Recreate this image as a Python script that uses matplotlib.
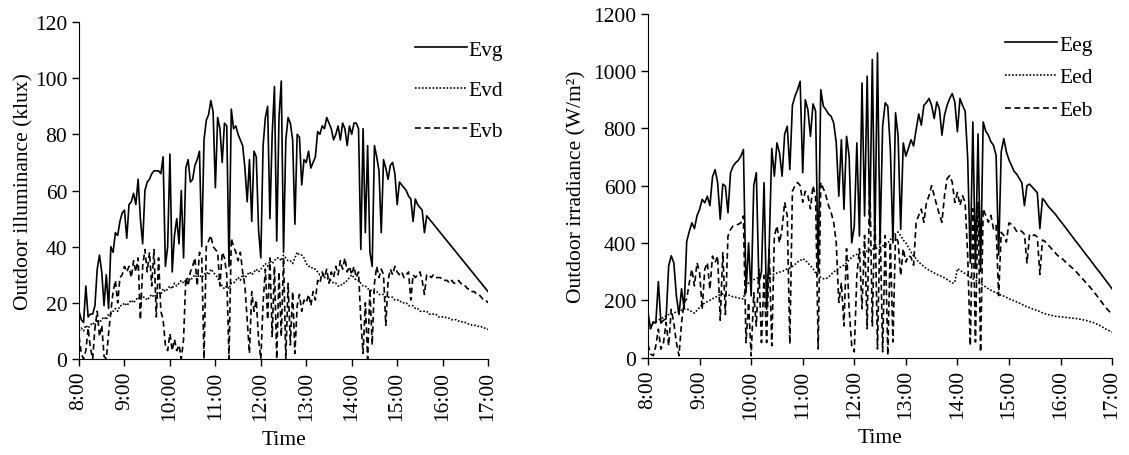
import matplotlib.pyplot as plt
import numpy as np

plt.rcParams['font.family'] = ['Liberation Serif', 'DejaVu Serif']

# readings every 3 minutes from 8:00 to 17:00 (one row = one hour)
minutes = np.arange(0, 541, 3)
hours = 8 + minutes / 60.0
hour_ticks = list(range(8, 18))
hour_labels = [f"{h}:00" for h in hour_ticks]

evg = [17, 14, 13, 26, 15, 16, 16, 19, 32, 37, 31, 19, 30, 18, 40, 38, 45, 44, 49, 52,
       53, 43, 55, 56, 59, 55, 64, 50, 41, 60, 63, 64, 66, 67, 67, 67, 66, 72, 33, 40,
       73, 31, 44, 50, 41, 60, 36, 68, 71, 63, 64, 69, 71, 74, 40, 78, 85, 87, 92, 88,
       61, 86, 82, 70, 84, 83, 33, 89, 82, 83, 80, 78, 76, 68, 56, 71, 49, 74, 72, 46,
       36, 76, 86, 90, 50, 80, 97, 42, 86, 99, 38, 78, 86, 84, 78, 48, 80, 79, 62, 71,
       70, 74, 68, 70, 72, 81, 80, 83, 82, 86, 84, 82, 78, 80, 83, 78, 84, 82, 76, 83,
       80, 84, 84, 82, 39, 82, 45, 76, 38, 33, 76, 72, 67, 45, 71, 68, 64, 69, 70, 66,
       55, 63, 62, 61, 60, 58, 57, 49, 57, 55, 54, 53, 45, 51, 50, 49, 48, 47, 46, 45,
       44, 43, 42, 41, 40, 39, 38, 37, 36, 35, 34, 33, 32, 31, 30, 29, 28, 27, 26, 25,
       24]
evd = [10, 11, 10, 12, 11, 12, 13, 12, 14, 13, 14, 15, 14, 16, 16, 17, 18, 17, 19, 19,
       20, 19, 20, 21, 20, 21, 22, 21, 22, 22, 21, 22, 23, 22, 23, 24, 23, 25, 24, 25,
       26, 25, 27, 26, 27, 28, 27, 28, 29, 28, 29, 30, 29, 30, 29, 30, 31, 30, 32, 31,
       30, 29, 27, 26, 25, 26, 25, 27, 27, 28, 29, 28, 30, 29, 30, 31, 30, 31, 32, 31,
       32, 33, 34, 33, 35, 34, 35, 36, 36, 35, 37, 36, 35, 35, 34, 36, 38, 37, 37, 36,
       34, 33, 33, 32, 32, 31, 30, 30, 29, 29, 28, 28, 27, 27, 26, 26, 27, 27, 28, 29,
       30, 29, 28, 28, 27, 26, 26, 25, 25, 24, 24, 24, 23, 23, 23, 22, 22, 22, 22, 21,
       21, 21, 20, 20, 20, 19, 19, 19, 18, 18, 17, 17, 17, 17, 16, 16, 16, 16, 15, 15,
       15, 15, 14.5, 14.5, 14, 14, 14, 13.5, 13.5, 13, 13, 12.5, 12.5, 12, 12, 12, 11.5, 11.5, 11, 11,
       10.5]
evb = [8, 2, 0, 3, 11, 4, 0, 11, 17, 8, 12, 1, 0, 9, 17, 24, 28, 20, 29, 30,
       33, 31, 33, 29, 35, 31, 36, 14, 33, 39, 31, 38, 26, 39, 15, 36, 17, 14, 5, 3,
       9, 3, 7, 3, 5, 0, 7, 29, 26, 31, 33, 36, 26, 38, 36, 0, 40, 42, 44, 40,
       39, 38, 26, 38, 36, 30, 0, 43, 40, 38, 35, 38, 31, 26, 14, 2, 24, 17, 21, 7,
       0, 20, 32, 14, 36, 8, 33, 0, 31, 8, 36, 0, 27, 5, 24, 2, 19, 23, 17, 21,
       20, 23, 19, 24, 21, 28, 27, 31, 29, 32, 27, 31, 29, 33, 30, 35, 32, 36, 31, 33,
       30, 33, 29, 31, 14, 2, 20, 0, 25, 5, 27, 33, 29, 32, 30, 12, 28, 32, 30, 33,
       31, 30, 31, 29, 30, 31, 21, 30, 29, 30, 31, 28, 23, 30, 30, 29, 30, 29, 29, 29,
       28, 28, 28, 27, 28, 27, 27, 28, 27, 26, 26, 25, 25, 24, 24, 23, 23, 22, 21, 21,
       20]

eeg = [155, 100, 125, 120, 265, 120, 130, 135, 320, 355, 330, 215, 150, 240, 170, 405, 440, 470, 450, 495,
       517, 552, 540, 563, 530, 630, 656, 610, 482, 605, 598, 505, 645, 668, 680, 688, 703, 726, 227, 400,
       215, 600, 645, 261, 300, 610, 168, 389, 730, 633, 749, 714, 633, 780, 807, 656, 880, 912, 935, 964,
       645, 900, 865, 772, 885, 860, 300, 935, 877, 865, 850, 842, 819, 750, 563, 760, 517, 772, 703, 400,
       459, 749, 424, 958, 494, 982, 459, 1040, 400, 1063, 400, 807, 889, 877, 726, 400, 854, 772, 447, 749,
       703, 730, 760, 738, 796, 850, 811, 880, 890, 904, 880, 834, 892, 869, 776, 846, 880, 904, 921, 892,
       788, 904, 880, 860, 695, 330, 822, 311, 780, 300, 822, 790, 776, 753, 741, 706, 358, 718, 764, 718,
       690, 670, 650, 640, 625, 610, 530, 600, 605, 595, 585, 575, 450, 555, 545, 530, 520, 510, 500, 488,
       476, 465, 453, 441, 429, 417, 405, 394, 382, 370, 358, 347, 335, 323, 311, 300, 288, 276, 264, 252,
       240]
eed = [100, 110, 120, 125, 130, 135, 140, 145, 150, 150, 155, 160, 160, 165, 170, 170, 165, 160, 155, 165,
       175, 185, 190, 195, 200, 205, 210, 215, 220, 222, 223, 220, 215, 212, 210, 208, 205, 205, 250, 260,
       265, 272, 275, 280, 283, 287, 285, 290, 293, 290, 295, 298, 300, 305, 310, 312, 318, 325, 333, 338,
       345, 340, 330, 320, 310, 295, 287, 280, 275, 275, 280, 290, 298, 305, 312, 318, 322, 330, 340, 350,
       357, 360, 363, 366, 368, 372, 375, 378, 380, 383, 386, 390, 391, 400, 410, 426, 432, 438, 425, 410,
       400, 385, 368, 355, 345, 333, 325, 318, 310, 305, 300, 295, 290, 287, 282, 278, 272, 266, 260, 262,
       310, 305, 298, 293, 287, 280, 275, 270, 264, 258, 252, 246, 240, 235, 230, 226, 222, 217, 214, 210,
       205, 202, 198, 194, 190, 186, 180, 177, 174, 170, 167, 164, 160, 156, 153, 150, 148, 146, 144, 143,
       142, 141, 140, 139, 138, 137, 136, 135, 133, 131, 129, 126, 124, 121, 117, 113, 108, 102, 97, 93,
       89]
eeb = [45, 12, 6, 40, 99, 29, 52, 122, 41, 168, 120, 52, 6, 122, 192, 205, 261, 308, 250, 331,
       296, 168, 308, 331, 238, 354, 331, 354, 130, 366, 150, 424, 447, 459, 462, 465, 470, 494, 52, 192,
       6, 226, 110, 308, 52, 284, 52, 377, 41, 424, 459, 400, 450, 542, 494, 47, 580, 600, 611, 600,
       542, 580, 565, 519, 600, 560, 30, 611, 590, 565, 531, 507, 472, 402, 192, 261, 110, 380, 170, 43,
       20, 286, 380, 170, 426, 100, 635, 110, 519, 30, 472, 20, 426, 8, 403, 54, 426, 403, 286, 380,
       333, 356, 350, 322, 472, 496, 518, 472, 541, 565, 600, 565, 531, 500, 472, 565, 624, 635, 612, 541,
       576, 531, 565, 541, 356, 41, 519, 54, 541, 19, 519, 496, 472, 496, 449, 461, 216, 437, 426, 403,
       470, 465, 455, 440, 445, 440, 430, 330, 430, 425, 428, 420, 290, 410, 405, 395, 385, 375, 365, 355,
       350, 342, 333, 325, 317, 309, 300, 290, 280, 270, 260, 250, 240, 228, 217, 205, 193, 181, 170, 160,
       150]

FS = 15.5
solid = dict(color='black', lw=1.2, linestyle='-')
dotted = dict(color='black', lw=1.2, linestyle=(0, (1, 1.1)))
dashed = dict(color='black', lw=1.2, linestyle=(0, (3.5, 2.2)))


def style(ax, ymax, ystep, ylabel, ypad):
    ax.set_xlim(8, 17)
    ax.set_ylim(0, ymax)
    ax.set_yticks(np.arange(0, ymax + 1, ystep))
    ax.set_xticks(hour_ticks)
    ax.set_xticklabels(hour_labels, rotation=90, fontsize=FS)
    ax.tick_params(axis='y', labelsize=FS)
    ax.tick_params(direction='out', length=5, width=1)
    ax.spines['top'].set_visible(False)
    ax.spines['right'].set_visible(False)
    ax.set_xlabel('Time', fontsize=FS, labelpad=7)
    ax.set_ylabel(ylabel, fontsize=FS, labelpad=ypad)


fig = plt.figure(figsize=(11.29, 4.56), dpi=100)
ax1 = fig.add_axes([0.070, 0.2105, 0.3623, 0.739])
ax2 = fig.add_axes([0.574, 0.2138, 0.411, 0.754])

ax1.plot(hours, evg, label='Evg', **solid)
ax1.plot(hours, evd, label='Evd', **dotted)
ax1.plot(hours, evb, label='Evb', **dashed)
style(ax1, 120, 20, 'Outdoor illuminance (klux)', 1)
ax1.legend(loc='upper right', bbox_to_anchor=(1.085, 1.005), frameon=False,
           fontsize=FS, labelspacing=0.95, handlelength=2.4, handletextpad=0.1)

ax2.plot(hours, eeg, label='Eeg', **solid)
ax2.plot(hours, eed, label='Eed', **dotted)
ax2.plot(hours, eeb, label='Eeb', **dashed)
style(ax2, 1200, 200, 'Outdoor irradiance (W/m²)', 5)
ax2.legend(loc='upper right', bbox_to_anchor=(1.0, 0.996), frameon=False,
           fontsize=FS, labelspacing=0.6, handlelength=2.4, handletextpad=0.1)

fig.savefig('out.png', dpi=100)
